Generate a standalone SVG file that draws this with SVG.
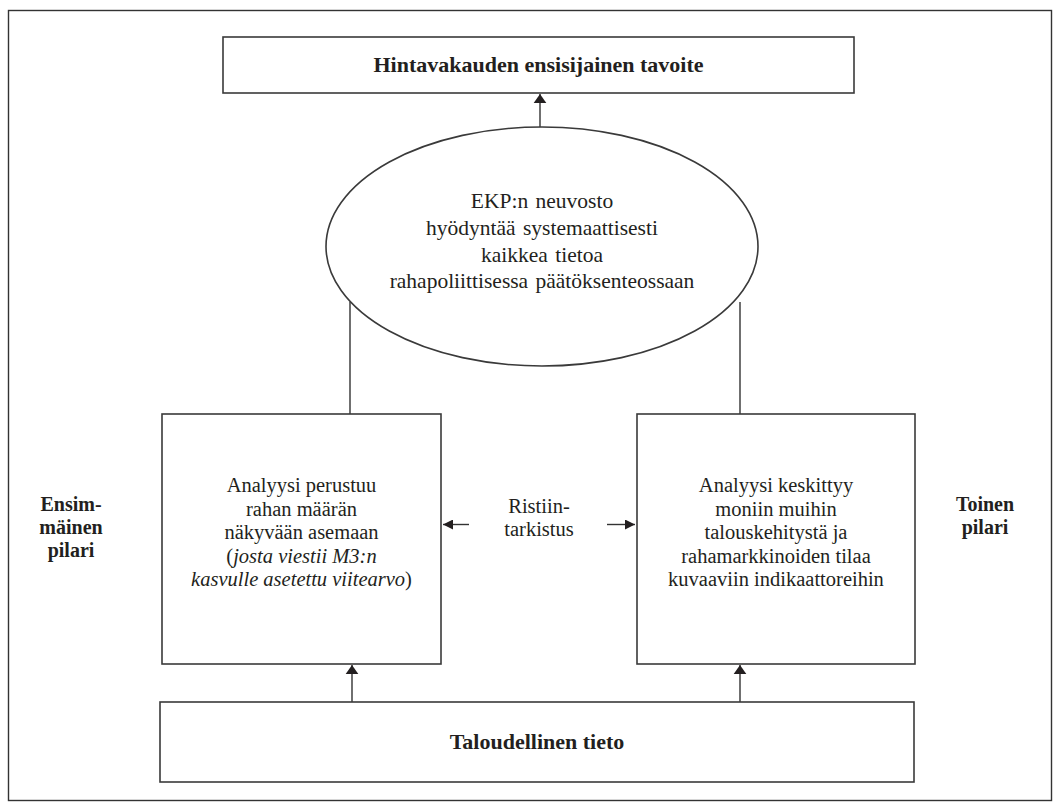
<svg xmlns="http://www.w3.org/2000/svg" width="1060" height="803" viewBox="0 0 1060 803">
<style>
.box{fill:#fff;stroke:#3a3a3a;stroke-width:1.6}
.ln{fill:none;stroke:#333;stroke-width:1.4}
.t{font-family:"Liberation Serif","Times New Roman",serif;font-size:20.5px;fill:#231f20;text-anchor:middle}
.e{font-size:21.5px;word-spacing:2px}
.b{font-family:"Liberation Serif","Times New Roman",serif;font-size:20px;font-weight:bold;fill:#231f20;text-anchor:middle}
.bb{font-size:22px}
.i{font-style:italic}
</style>
<defs>
<marker id="ah" viewBox="0 0 10 10" refX="10" refY="5" markerWidth="10" markerHeight="10" markerUnits="userSpaceOnUse" orient="auto">
<path d="M0,0 L10,5 L0,10 z" fill="#231f20"/>
</marker>
<marker id="ahw" viewBox="0 0 10 14" refX="10" refY="7" markerWidth="9" markerHeight="15" markerUnits="userSpaceOnUse" orient="auto">
<path d="M0,0 L10,7 L0,14 z" fill="#231f20"/>
</marker>
</defs>
<rect x="0" y="0" width="1060" height="803" fill="#fff"/>
<rect id="frame" x="8.5" y="10.5" width="1043" height="790" fill="none" stroke="#333" stroke-width="1.4"/>

<g id="connectors">
<line class="ln" x1="540" y1="127" x2="540" y2="94" marker-end="url(#ahw)"/>
<line class="ln" x1="350" y1="302" x2="350" y2="414"/>
<line class="ln" x1="740" y1="302" x2="740" y2="414"/>
<line class="ln" x1="352" y1="702" x2="352" y2="665" marker-end="url(#ahw)"/>
<line class="ln" x1="740" y1="702" x2="740" y2="665" marker-end="url(#ahw)"/>
<line class="ln" x1="469" y1="524.5" x2="443" y2="524.5" marker-end="url(#ah)"/>
<line class="ln" x1="607" y1="524.5" x2="635" y2="524.5" marker-end="url(#ah)"/>
</g>

<g id="goal">
<rect class="box" x="223" y="37" width="631" height="56"/>
<text class="b bb" x="538.5" y="72">Hintavakauden ensisijainen tavoite</text>
</g>

<g id="council">
<ellipse class="box" cx="542" cy="246.5" rx="216" ry="119.5" stroke-width="1.4"/>
<text class="t e" x="542" y="208">EKP:n neuvosto</text>
<text class="t e" x="542" y="235">hyödyntää systemaattisesti</text>
<text class="t e" x="542" y="262">kaikkea tietoa</text>
<text class="t e" x="542" y="288">rahapoliittisessa päätöksenteossaan</text>
</g>

<g id="pillar1">
<rect class="box" x="162" y="414" width="279" height="250"/>
<text class="t" x="301.5" y="492">Analyysi perustuu</text>
<text class="t" x="301.5" y="515.5">rahan määrän</text>
<text class="t" x="301.5" y="539">näkyvään asemaan</text>
<text class="t" x="301.5" y="562.5">(<tspan class="i">josta viestii M3:n</tspan></text>
<text class="t" x="301.5" y="586"><tspan class="i">kasvulle asetettu viitearvo</tspan>)</text>
</g>

<g id="pillar2">
<rect class="box" x="637" y="414" width="278" height="250"/>
<text class="t" x="776" y="492">Analyysi keskittyy</text>
<text class="t" x="776" y="515.5">moniin muihin</text>
<text class="t" x="776" y="539">talouskehitystä ja</text>
<text class="t" x="776" y="562.5">rahamarkkinoiden tilaa</text>
<text class="t" x="776" y="586">kuvaaviin indikaattoreihin</text>
</g>

<g id="crosscheck">
<text class="t" x="539" y="513">Ristiin-</text>
<text class="t" x="539" y="536">tarkistus</text>
</g>

<g id="label1">
<text class="b" x="71" y="511">Ensim-</text>
<text class="b" x="71" y="534">mäinen</text>
<text class="b" x="71" y="557">pilari</text>
</g>

<g id="label2">
<text class="b" x="985" y="511">Toinen</text>
<text class="b" x="985" y="534">pilari</text>
</g>

<g id="data">
<rect class="box" x="160" y="702" width="754" height="80"/>
<text class="b bb" x="537" y="749">Taloudellinen tieto</text>
</g>
</svg>
